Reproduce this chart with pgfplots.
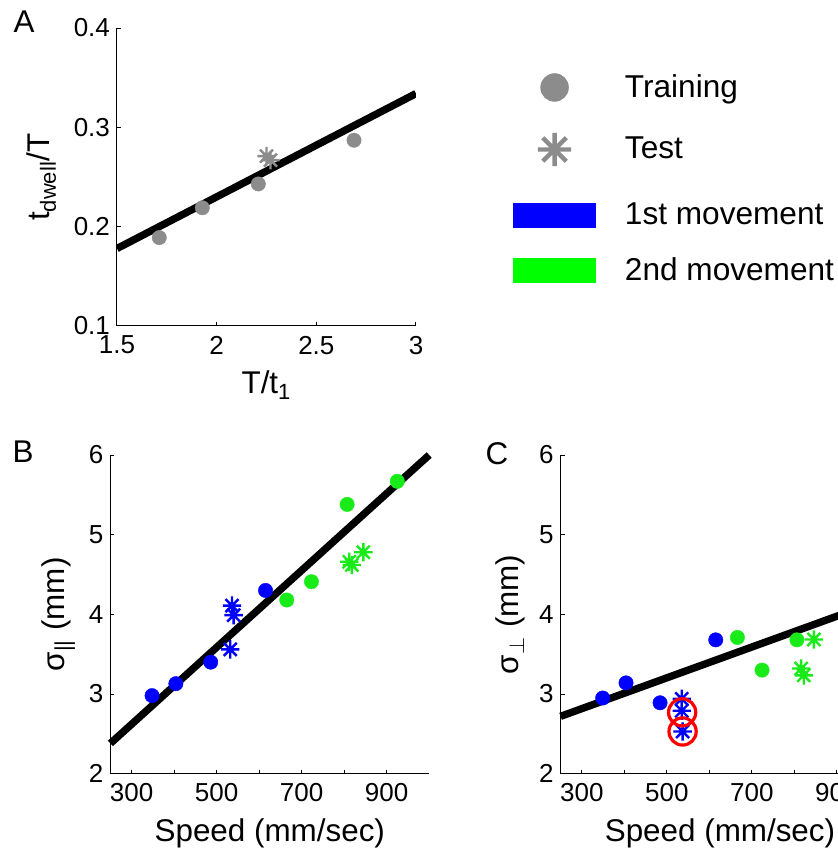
\documentclass[border=0pt]{standalone}
\usepackage{fontspec}
\setmainfont{Liberation Sans}
\usepackage{pgfplots}
\pgfplotsset{compat=1.18}

\definecolor{gray1}{RGB}{140,140,140}
\definecolor{mgreen}{RGB}{25,235,25}
\definecolor{lgreen}{RGB}{0,255,0}
\definecolor{mblue}{RGB}{0,0,255}

\pgfdeclareplotmark{mstar}{%
  \pgfpathmoveto{\pgfqpoint{-\pgfplotmarksize}{0pt}}\pgfpathlineto{\pgfqpoint{\pgfplotmarksize}{0pt}}%
  \pgfpathmoveto{\pgfqpoint{0pt}{-\pgfplotmarksize}}\pgfpathlineto{\pgfqpoint{0pt}{\pgfplotmarksize}}%
  \pgfpathmoveto{\pgfqpoint{-0.7071\pgfplotmarksize}{-0.7071\pgfplotmarksize}}\pgfpathlineto{\pgfqpoint{0.7071\pgfplotmarksize}{0.7071\pgfplotmarksize}}%
  \pgfpathmoveto{\pgfqpoint{-0.7071\pgfplotmarksize}{0.7071\pgfplotmarksize}}\pgfpathlineto{\pgfqpoint{0.7071\pgfplotmarksize}{-0.7071\pgfplotmarksize}}%
  \pgfusepathqstroke}

\pgfplotsset{
  myax/.style={
    scale only axis,
    axis lines=left,
    axis line style={-, line width=0.5pt},
    tick align=inside,
    major tick length=2pt,
    tick style={line width=0.5pt, black},
    /pgf/number format/assume math mode=true,
    tick label style={font=\fontsize{13}{15}\selectfont},
    xticklabel style={yshift=-1.5pt},
    label style={font=\fontsize{15.7}{18}\selectfont},
    xlabel style={yshift=-1.5pt},
  },
  dot/.style={only marks, mark=*, mark size=3.6pt, color=#1, mark options={line width=0.2pt}},
  ast/.style={only marks, mark=mstar, mark size=4.6pt, line width=1.2pt, color=#1},
  fit/.style={no marks, black, line width=3.7pt},
}

\begin{document}
\begin{tikzpicture}
% ---------------- Panel A ----------------
\begin{axis}[myax,
  at={(58.5pt,261pt)}, anchor=south west,
  width=149.5pt, height=149pt,
  xmin=1.5, xmax=3, ymin=0.1, ymax=0.4,
  xtick={1.5,2,2.5,3}, ytick={0.1,0.2,0.3,0.4},
  xlabel={T/t\textsubscript{1}},
  ylabel={t\textsubscript{dwell}/T},
  ylabel style={yshift=2pt},
  legend cell align=left,
  legend style={at={(1.3237,0.889)}, anchor=north west, draw=none, fill=none,
    inner sep=0pt, row sep=0pt, column sep=12.5pt,
    font=\fontsize{15.8}{18}\selectfont},
]
\addlegendimage{legend image code/.code={\path[draw=none,fill=none] (0pt,-15.5pt) rectangle (41pt,13pt); \fill[gray1] (20.5pt,0pt) circle (6.9pt);}}
\addlegendentry{Training}
\addlegendimage{legend image code/.code={\path[draw=none,fill=none] (0pt,-16.5pt) rectangle (41pt,15.5pt); \draw[gray1,line width=2.2pt] plot[only marks, mark=mstar, mark size=8.3pt] coordinates {(20.5pt,0pt)};}}
\addlegendentry{Test}
\addlegendimage{legend image code/.code={\path[draw=none,fill=none] (0pt,-13.75pt) rectangle (41pt,16.5pt); \fill[mblue] (0pt,-5.85pt) rectangle (41pt,5.85pt);}}
\addlegendentry{1st movement}
\addlegendimage{legend image code/.code={\path[draw=none,fill=none] (0pt,-13pt) rectangle (41pt,13.75pt); \fill[lgreen] (0pt,-5.85pt) rectangle (41pt,5.85pt);}}
\addlegendentry{2nd movement}

\addplot[dot=gray1] coordinates {(1.712,0.189) (1.928,0.219) (2.209,0.243) (2.689,0.287)};
\addplot[ast=gray1] coordinates {(2.25,0.271) (2.27,0.267)};
\addplot[fit] coordinates {(1.5,0.178) (3,0.334)};
\end{axis}

% ---------------- Panel B ----------------
\begin{axis}[myax,
  at={(55.2pt,37.15pt)}, anchor=south west,
  width=159.4pt, height=159.35pt,
  xmin=250, xmax=1000, ymin=2, ymax=6,
  xtick={300,400,...,900}, xticklabels={300,,500,,700,,900},
  ytick={2,3,4,5,6},
  xlabel={Speed (mm/sec)},
  ylabel={σ\textsubscript{||} (mm)},
  clip=false,
]
\addplot[dot=mblue] coordinates {(348,2.98) (404,3.13) (486,3.40) (615,4.30)};
\addplot[dot=mgreen] coordinates {(665,4.18) (723,4.41) (807,5.38) (925,5.67)};
\addplot[ast=mblue] coordinates {(536,4.11) (540,3.99) (532,3.56)};
\addplot[ast=mgreen] coordinates {(812,4.66) (818,4.62) (845,4.78)};
\addplot[fit] coordinates {(250,2.38) (1000,6.0)};
\end{axis}

% ---------------- Panel C ----------------
\begin{axis}[myax,
  at={(280.3pt,37.15pt)}, anchor=south west,
  width=159.4pt, height=159.35pt,
  xmin=250, xmax=1000, ymin=2, ymax=6,
  xtick={300,400,...,1000}, xticklabels={300,,500,,700,,900,},
  ytick={2,3,4,5,6},
  xlabel={Speed (mm/sec)},
  ylabel={σ\textsubscript{$\perp$} (mm)},
  clip=false,
]
\addplot[dot=mblue] coordinates {(349,2.95) (404,3.14) (484,2.89) (615,3.68)};
\addplot[dot=mgreen] coordinates {(666,3.71) (724,3.30) (806,3.68) (925,4.18)};
\addplot[ast=mblue] coordinates {(535,2.94) (535,2.79) (537,2.53)};
\addplot[ast=mgreen] coordinates {(816,3.32) (822,3.235) (846,3.685)};
\addplot[fit] coordinates {(250,2.72) (1000,4.17)};
\addplot[only marks, mark=o, mark size=6.8pt, red, line width=1.6pt] coordinates {(536,2.77) (537,2.53)};
\end{axis}

\node[font=\fontsize{15.7}{18}\selectfont] at (12pt,413pt) {A};
\node[font=\fontsize{15.7}{18}\selectfont] at (11.5pt,198pt) {B};
\node[font=\fontsize{15.7}{18}\selectfont] at (248.5pt,197pt) {C};

\pgfresetboundingbox
\path[use as bounding box] (0pt,0pt) rectangle (419pt,424pt);
\end{tikzpicture}
\end{document}
